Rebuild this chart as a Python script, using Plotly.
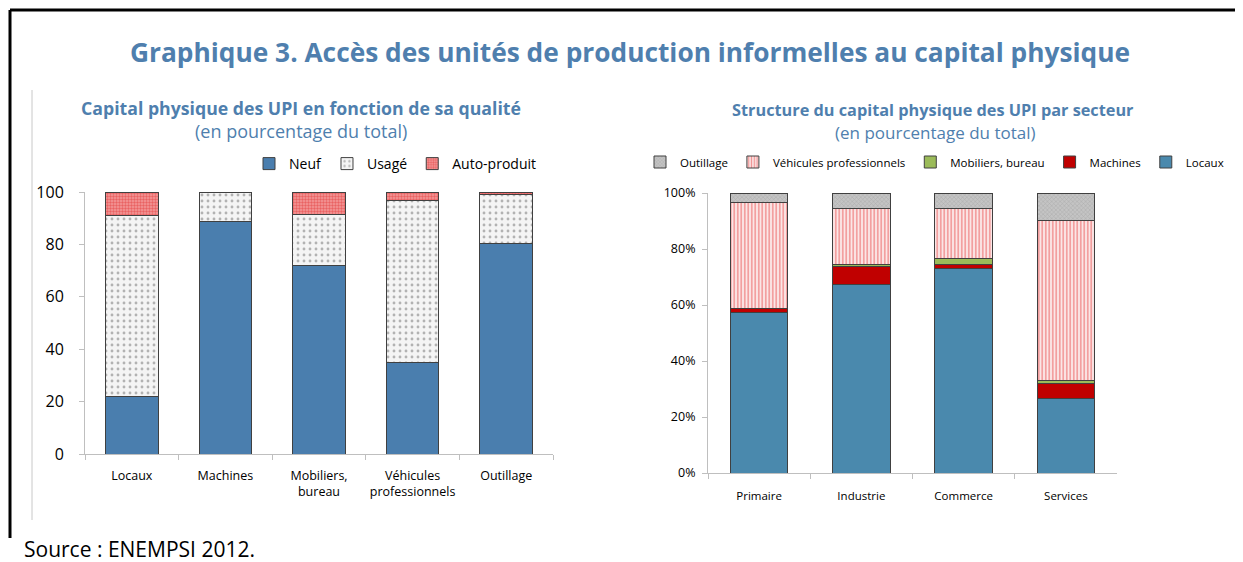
import plotly.graph_objects as go

W, H = 1243, 562
OFF = 8  # page body margin
FW, FH = W - OFF, H - OFF

# Left chart: capital by quality
qual_cats = ["Locaux", "Machines", "Mobiliers,<br>bureau", "Véhicules<br>professionnels", "Outillage"]
neuf = [22.0, 88.9, 72.1, 35.0, 80.4]
usage = [69.0, 11.0, 19.5, 61.6, 18.7]
auto_produit = [9.0, 0.1, 8.4, 3.4, 0.9]

# Right chart: structure by sector
sectors = ["Primaire", "Industrie", "Commerce", "Services"]
locaux = [57.4, 67.4, 73.1, 26.7]
machines = [1.2, 6.3, 1.2, 5.3]
mobiliers = [0.2, 0.8, 2.2, 1.2]
vehicules = [37.9, 20.0, 18.1, 56.9]
outillage = [3.3, 5.5, 5.4, 9.9]

BLUE_TXT = "#4f7fae"
FONT = "Open Sans"


# screen pixel -> paper fraction
def px(x):
    return (x - OFF) / FW


def py(y):
    return 1 - (y - OFF) / FH


fig = go.Figure()
outline = dict(color="#404040", width=1)

fig.add_trace(go.Bar(x=qual_cats, y=neuf, name="Neuf", marker=dict(color="#4a7eae", line=outline),
                     xaxis="x", yaxis="y", legend="legend"))
fig.add_trace(go.Bar(x=qual_cats, y=usage, name="Usagé",
                     marker=dict(color="#f2f2f2", line=outline,
                                 pattern=dict(shape=".", bgcolor="#f4f4f4", fgcolor="#707070", size=6, solidity=0.18)),
                     xaxis="x", yaxis="y", legend="legend"))
fig.add_trace(go.Bar(x=qual_cats, y=auto_produit, name="Auto-produit",
                     marker=dict(color="#f08888", line=outline,
                                 pattern=dict(shape=".", bgcolor="#f49a9a", fgcolor="#dd2a2a", size=3, solidity=0.5)),
                     xaxis="x", yaxis="y", legend="legend"))

fig.add_trace(go.Bar(x=sectors, y=locaux, name="Locaux", marker=dict(color="#4a89ad", line=outline),
                     xaxis="x2", yaxis="y2", legend="legend2"))
fig.add_trace(go.Bar(x=sectors, y=machines, name="Machines", marker=dict(color="#c00000", line=outline),
                     xaxis="x2", yaxis="y2", legend="legend2"))
fig.add_trace(go.Bar(x=sectors, y=mobiliers, name="Mobiliers, bureau", marker=dict(color="#9bbb59", line=outline),
                     xaxis="x2", yaxis="y2", legend="legend2"))
fig.add_trace(go.Bar(x=sectors, y=vehicules, name="Véhicules professionnels",
                     marker=dict(color="#ffffff", line=outline,
                                 pattern=dict(shape="|", bgcolor="#fbe6e6", fgcolor="#e84848", size=3.5, solidity=0.45)),
                     xaxis="x2", yaxis="y2", legend="legend2"))
fig.add_trace(go.Bar(x=sectors, y=outillage, name="Outillage",
                     marker=dict(color="#b0b0b0", line=outline,
                                 pattern=dict(shape="x", bgcolor="#c4c4c4", fgcolor="#8f8f8f", size=3, solidity=0.3)),
                     xaxis="x2", yaxis="y2", legend="legend2"))

axis_common = dict(showline=True, linecolor="#bfbfbf", linewidth=1, ticks="outside", tickcolor="#bfbfbf",
                   ticklen=5, showgrid=False, zeroline=False, automargin=False)

fig.update_layout(
    width=FW, height=FH,
    margin=dict(l=0, r=0, t=0, b=0, autoexpand=False),
    paper_bgcolor="white", plot_bgcolor="white",
    barmode="stack", bargap=0.44,
    font=dict(family=FONT, color="#000000"),
    xaxis=dict(domain=[px(85), px(553)], anchor="y", tickson="boundaries", tickangle=0,
               ticklabelstandoff=10, tickfont=dict(size=12.5), **axis_common),
    yaxis=dict(domain=[py(454), py(192)], anchor="x", range=[0, 100], dtick=20,
               ticklabelstandoff=12, tickfont=dict(size=16), **axis_common),
    xaxis2=dict(domain=[px(708), px(1117)], anchor="y2", tickson="boundaries", tickangle=0,
                ticklabelstandoff=12, tickfont=dict(size=11.5), **axis_common),
    yaxis2=dict(domain=[py(473), py(193)], anchor="x2", range=[0, 100], dtick=20, ticksuffix="%",
                ticklabelstandoff=4, tickfont=dict(size=12.5), **axis_common),
    legend=dict(orientation="h", x=px(249), y=py(164), xanchor="left", yanchor="middle",
                font=dict(size=14), bgcolor="rgba(0,0,0,0)", traceorder="normal", itemwidth=30),
    legend2=dict(orientation="h", x=px(640), y=py(162), xanchor="left", yanchor="middle",
                 font=dict(size=11.5), bgcolor="rgba(0,0,0,0)", traceorder="reversed", itemwidth=30),
)

annotations = [
    dict(text="<b>Graphique 3. Accès des unités de production informelles au capital physique</b>",
         x=px(630), y=py(52), font=dict(size=26.3, color=BLUE_TXT)),
    dict(text="<b>Capital physique des UPI en fonction de sa qualité</b>",
         x=px(301), y=py(108), font=dict(size=17.7, color=BLUE_TXT)),
    dict(text="(en pourcentage du total)", x=px(301), y=py(131), font=dict(size=18, color=BLUE_TXT)),
    dict(text="<b>Structure du capital physique des UPI par secteur</b>",
         x=px(933), y=py(110), font=dict(size=16.3, color=BLUE_TXT)),
    dict(text="(en pourcentage du total)", x=px(935), y=py(133), font=dict(size=17, color=BLUE_TXT)),
    dict(text="Source : ENEMPSI 2012.", x=px(22), y=py(549), xanchor="left",
         font=dict(size=21, color="#000000")),
]
for a in annotations:
    a.setdefault("xanchor", "center")
    fig.add_annotation(xref="paper", yref="paper", yanchor="middle", showarrow=False, **a)

# frame lines
fig.add_shape(type="line", xref="paper", yref="paper", x0=px(10), x1=1.0, y0=py(10), y1=py(10),
              line=dict(color="black", width=3))
fig.add_shape(type="line", xref="paper", yref="paper", x0=px(10), x1=px(10), y0=py(10), y1=py(538),
              line=dict(color="black", width=3))
fig.add_shape(type="line", xref="paper", yref="paper", x0=px(32), x1=px(32), y0=py(90), y1=py(520),
              line=dict(color="#c8c8c8", width=1))

fig.write_html("out.html")
